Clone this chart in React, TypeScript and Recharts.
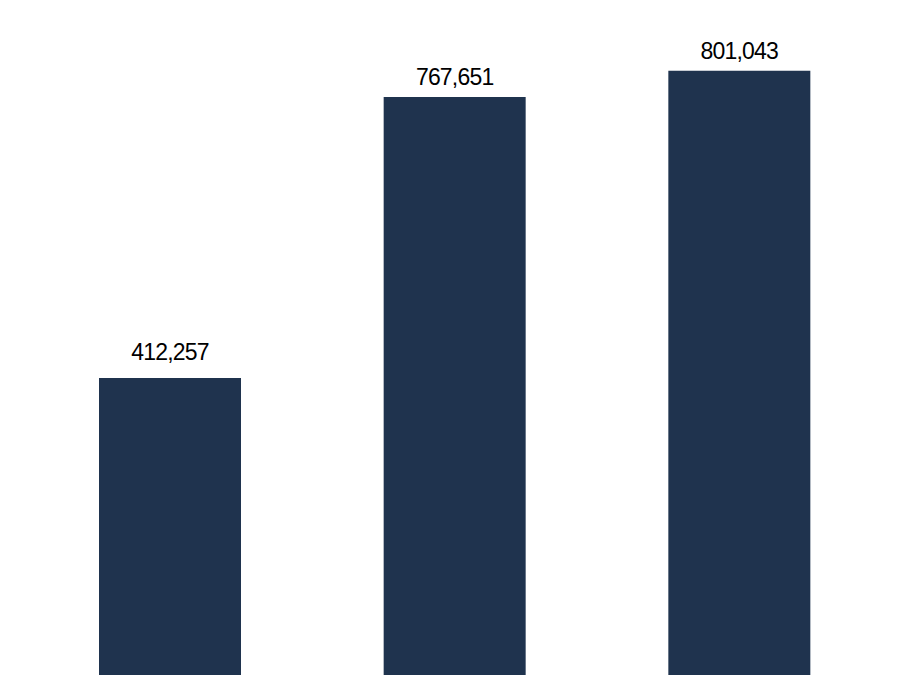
import { BarChart, Bar, XAxis, YAxis, LabelList } from 'recharts';

// categories are not visible in the reference (axis is cut off below the frame)
const categories = ['Group 1', 'Group 2', 'Group 3'];
const totals = [412257, 767651, 801043];

const data = categories.map((name, i) => ({ name, total: totals[i] }));

const fmt = (v: any) => Number(v).toLocaleString('en-US');

// value label above each bar; the first one sits a little higher in the source
const renderLabel = (props: any) => {
    const { x, y, width, value, index } = props;
    const gap = index === 0 ? 18.5 : 11.8;
    return (
        <text
            x={x + width / 2}
            y={y - gap}
            textAnchor="middle"
            fontFamily="Liberation Sans, Arial, sans-serif"
            fontSize={23}
            letterSpacing={-0.8}
            fill="#000"
        >
            {fmt(value)}
        </text>
    );
};

export default function App() {
    return (
        <div style={{ position: 'fixed', left: 0, top: 0, width: 900, height: 675, overflow: 'hidden', background: '#fff' }}>
            <BarChart width={900} height={704} data={data} margin={{ top: 32, right: 18, left: 28, bottom: 0 }}>
                <XAxis dataKey="name" hide />
                <YAxis hide domain={[0, 850000]} />
                <Bar dataKey="total" fill="#1F334E" barSize={142} isAnimationActive={false}>
                    <LabelList dataKey="total" content={renderLabel} />
                </Bar>
            </BarChart>
        </div>
    );
}
